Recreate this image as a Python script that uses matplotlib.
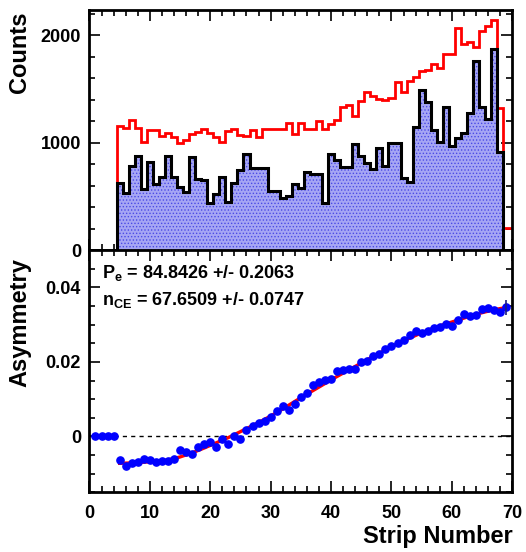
import matplotlib
matplotlib.use('Agg')
import matplotlib.pyplot as plt
from matplotlib.ticker import MultipleLocator, FuncFormatter
import numpy as np

plt.rcParams['font.family'] = ['Liberation Sans', 'DejaVu Sans']
plt.rcParams['font.weight'] = 'bold'
plt.rcParams['mathtext.fontset'] = 'custom'
plt.rcParams['mathtext.bf'] = 'Liberation Sans:bold'
plt.rcParams['mathtext.rm'] = 'Liberation Sans:bold'
plt.rcParams['hatch.linewidth'] = 0.6

# counts per strip, red = all, black/blue = background subtracted
red_strips = list(range(5, 71))
red_counts = [1153, 1138, 1209, 1132, 1008, 1122, 1122, 1060, 1085, 1050,
              992, 1023, 1082, 1098, 1126, 1088, 1050, 1008, 1110, 1130,
              1068, 1066, 1118, 1050, 1124, 1124, 1124, 1130, 1186, 1077,
              1178, 1123, 1125, 1200, 1125, 1172, 1209, 1327, 1349, 1249,
              1385, 1473, 1430, 1405, 1400, 1417, 1563, 1473, 1570, 1610,
              1665, 1680, 1730, 1690, 1825, 1825, 2071, 1915, 1935, 1888,
              2043, 2085, 2143, 1318, 207, 207]

black_strips = list(range(5, 69))
black_counts = [620, 530, 778, 877, 567, 816, 611, 682, 872, 678,
                585, 540, 868, 663, 651, 434, 520, 678, 450, 620,
                744, 892, 764, 764, 764, 553, 553, 481, 499, 614,
                574, 723, 704, 704, 440, 890, 837, 770, 770, 985,
                878, 806, 753, 952, 784, 992, 995, 670, 629, 1150,
                1488, 1380, 1113, 1003, 1330, 969, 1045, 1091, 1274, 1764,
                1336, 1222, 1875, 915]

# asymmetry per strip
asym_strips = list(range(1, 70))
asym_values = [0.0, 0.0, 0.0, 0.0,
               -0.0063, -0.0079, -0.0070, -0.0068, -0.0060, -0.0062,
               -0.0068, -0.0065, -0.0065, -0.0061, -0.0037, -0.0041,
               -0.0046, -0.0028, -0.0021, -0.0014, -0.0028, -0.0007,
               -0.0020, 0.0000, -0.0008, 0.0017, 0.0028, 0.0037,
               0.0042, 0.0051, 0.0067, 0.0082, 0.0070, 0.0087,
               0.0105, 0.0116, 0.0137, 0.0147, 0.0151, 0.0155,
               0.0176, 0.0178, 0.0181, 0.0182, 0.0201, 0.0202,
               0.0216, 0.0222, 0.0235, 0.0243, 0.0250, 0.0258,
               0.0272, 0.0283, 0.0278, 0.0283, 0.0291, 0.0294,
               0.0303, 0.0297, 0.0313, 0.0328, 0.0322, 0.0327,
               0.0342, 0.0345, 0.0338, 0.0333, 0.0346]
last_err = 0.0020

# fitted curve
fit_strips = [5, 7, 9, 11, 13, 15, 17, 19, 21, 23, 25, 27, 29, 31, 33, 35,
              37, 39, 41, 43, 45, 47, 49, 51, 53, 55, 57, 59, 61, 63, 65,
              67, 69]
fit_values = [-0.0072, -0.0071, -0.0069, -0.0067, -0.0063, -0.0055, -0.0044,
              -0.0031, -0.0017, -0.0003, 0.0013, 0.0029, 0.0046, 0.0064,
              0.0084, 0.0104, 0.0123, 0.0142, 0.0161, 0.0179, 0.0197,
              0.0215, 0.0232, 0.0249, 0.0264, 0.0278, 0.0291, 0.0302,
              0.0312, 0.0323, 0.0332, 0.0340, 0.0346]

fit_text = [r'$\mathbf{P_{e}}$ = 84.8426 +/- 0.2063',
            r'$\mathbf{n_{CE}}$ = 67.6509 +/- 0.0747']

fig = plt.figure(figsize=(5.26, 5.52), dpi=100)
ax1 = fig.add_axes([0.170, 0.547, 0.804, 0.435])
ax2 = fig.add_axes([0.170, 0.108, 0.804, 0.439])

red_edges = np.append(np.array(red_strips) - 0.5, red_strips[-1] + 0.5)
black_edges = np.append(np.array(black_strips) - 0.5, black_strips[-1] + 0.5)

ax1.stairs(red_counts, red_edges, color='red', lw=2, zorder=2)
ax1.stairs(black_counts, black_edges, fill=True, facecolor='#a6a6f4',
           edgecolor='#4a4ae6', hatch='.....', lw=0, zorder=3)
ax1.stairs(black_counts, black_edges, color='black', lw=2.2, zorder=4)

ax1.set_xlim(0, 70)
ax1.set_ylim(0, 2235)
ax1.yaxis.set_major_locator(MultipleLocator(1000))
ax1.yaxis.set_minor_locator(MultipleLocator(200))
ax1.set_ylabel('Counts', fontsize=17, fontweight='bold', loc='top')
ax1.yaxis.set_label_coords(-0.138, 0.995)
ax1.tick_params(labelbottom=False)

ax2.axhline(0, color='black', lw=1, ls=(0, (3, 3)), zorder=1)
ax2.plot(fit_strips, fit_values, color='red', lw=2.4, zorder=3)
ax2.plot(asym_strips, asym_values, 'o', color='blue', ms=5.2, zorder=4)
ax2.errorbar([asym_strips[-1]], [asym_values[-1]], yerr=[last_err],
             fmt='none', ecolor='#1a1a80', elinewidth=1.2, zorder=5)

ax2.set_xlim(0, 70)
ax2.set_ylim(-0.015, 0.050)
ax2.yaxis.set_major_locator(MultipleLocator(0.02))
ax2.yaxis.set_minor_locator(MultipleLocator(0.005))
ax2.yaxis.set_major_formatter(FuncFormatter(lambda v, p: '0' if abs(v) < 1e-9 else '%g' % v))
ax2.set_ylabel('Asymmetry', fontsize=17, fontweight='bold', loc='top')
ax2.yaxis.set_label_coords(-0.138, 0.967)
ax2.set_xlabel('Strip Number', fontsize=17, fontweight='bold', loc='right')
ax2.xaxis.set_label_coords(1.0, -0.135)

ax2.text(0.029, 0.885, fit_text[0], transform=ax2.transAxes, fontsize=13,
         fontweight='bold', va='baseline')
ax2.text(0.029, 0.774, fit_text[1], transform=ax2.transAxes, fontsize=13,
         fontweight='bold', va='baseline')

for ax in (ax1, ax2):
    ax.xaxis.set_major_locator(MultipleLocator(10))
    ax.xaxis.set_minor_locator(MultipleLocator(2))
    ax.tick_params(which='both', direction='in', top=True, right=True,
                   labelsize=13, width=1.2)
    ax.tick_params(which='major', length=8)
    ax.tick_params(which='minor', length=4)
    ax.tick_params(axis='y', pad=6)
    ax.tick_params(axis='x', pad=9)
    for s in ax.spines.values():
        s.set_linewidth(2)
    for lab in ax.get_xticklabels() + ax.get_yticklabels():
        lab.set_fontweight('bold')

fig.savefig('out.png', dpi=100)
